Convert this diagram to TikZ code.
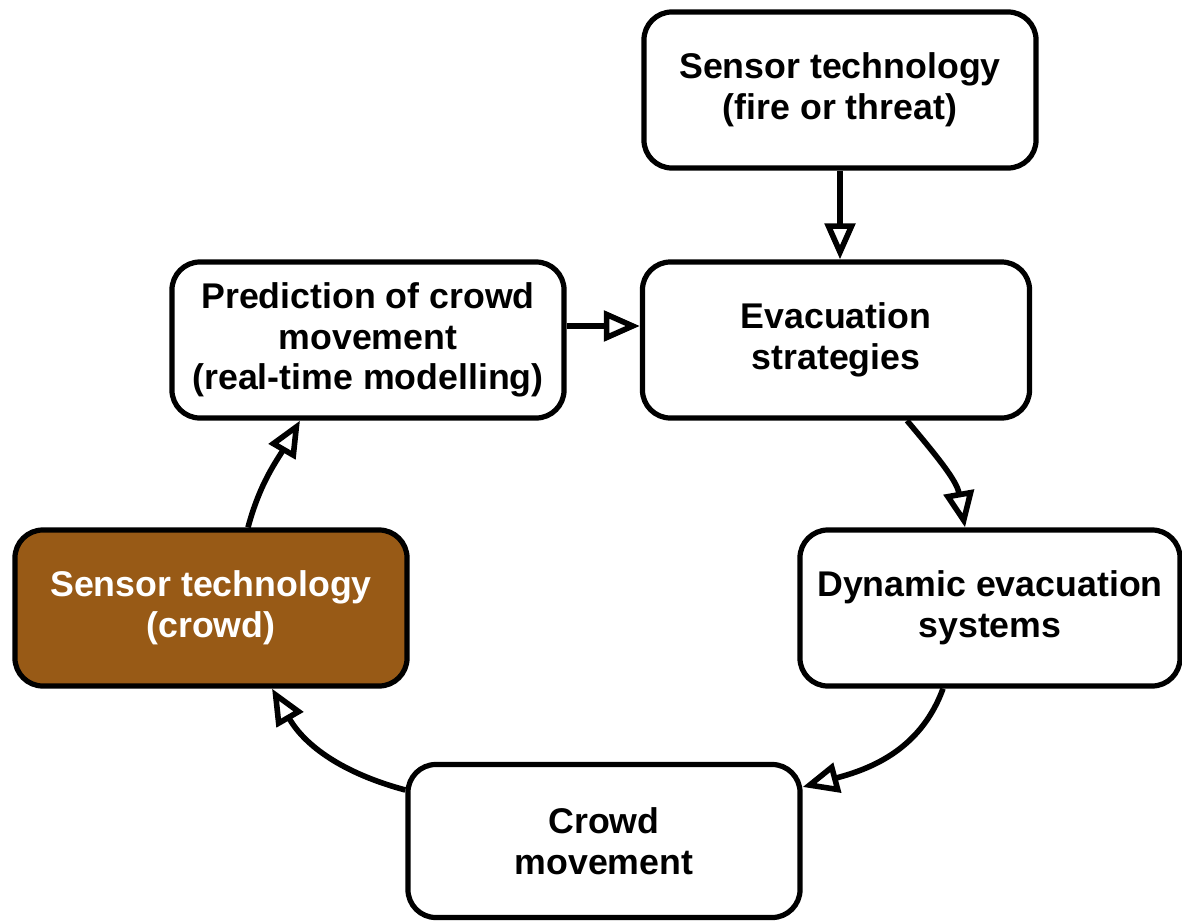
\documentclass[tikz,border=0pt]{standalone}
\usepackage{fontspec}
\setmainfont{Liberation Sans}
\usetikzlibrary{arrows.meta}
\definecolor{crowdbrown}{RGB}{152,90,22}
\tikzset{
  stage/.style={draw=black, line width=0.13cm, rounded corners=0.7cm, fill=white,
    minimum width=9.8cm, minimum height=3.9cm, align=center, inner sep=0pt,
    font=\fontsize{25.4pt}{28.8pt}\selectfont\bfseries},
  flow/.style={line width=0.14cm, -{Triangle[open, length=0.9cm, width=0.75cm, line width=0.14cm]}},
}
\begin{document}
\begin{tikzpicture}[x=0.025cm, y=-0.025cm]
  \useasboundingbox (0,0) rectangle (1182,920);
  \fill[white] (0,0) rectangle (1182,920);

  \node[stage] (fire) at (840,90) {Sensor technology\\(fire or threat)};
  \node[stage, minimum width=9.675cm] (evac) at (836,340) {Evacuation\\strategies};
  \node[stage] (pred) at (368,340) {Prediction of crowd\\movement\\(real-time modelling)};
  \node[stage, fill=crowdbrown, text=white] (crowdsens) at (211,608) {Sensor technology\\(crowd)};
  \node[stage, minimum width=9.5cm] (dyn) at (990,608) {Dynamic evacuation\\systems};
  \node[stage, minimum height=3.825cm] (move) at (604,841) {Crowd\\movement};

  \draw[flow] (fire.south) -- (fire.south |- evac.north);
  \draw[flow] ([yshift=0.35cm]pred.east) -- ([yshift=0.35cm]evac.west);
  \draw[flow] ([xshift=1.775cm]evac.south) to[out=-50, in=100] ([xshift=-0.625cm]dyn.north);
  \draw[flow] ([xshift=-1.175cm]dyn.south) to[out=-110, in=15] ([yshift=1.35cm]move.east);
  \draw[flow] ([yshift=1.275cm]move.west) to[out=165, in=-60] ([xshift=1.525cm]crowdsens.south);
  \draw[flow] ([xshift=0.925cm]crowdsens.north) to[out=75, in=-120] ([xshift=-1.7cm]pred.south);
\end{tikzpicture}
\end{document}
